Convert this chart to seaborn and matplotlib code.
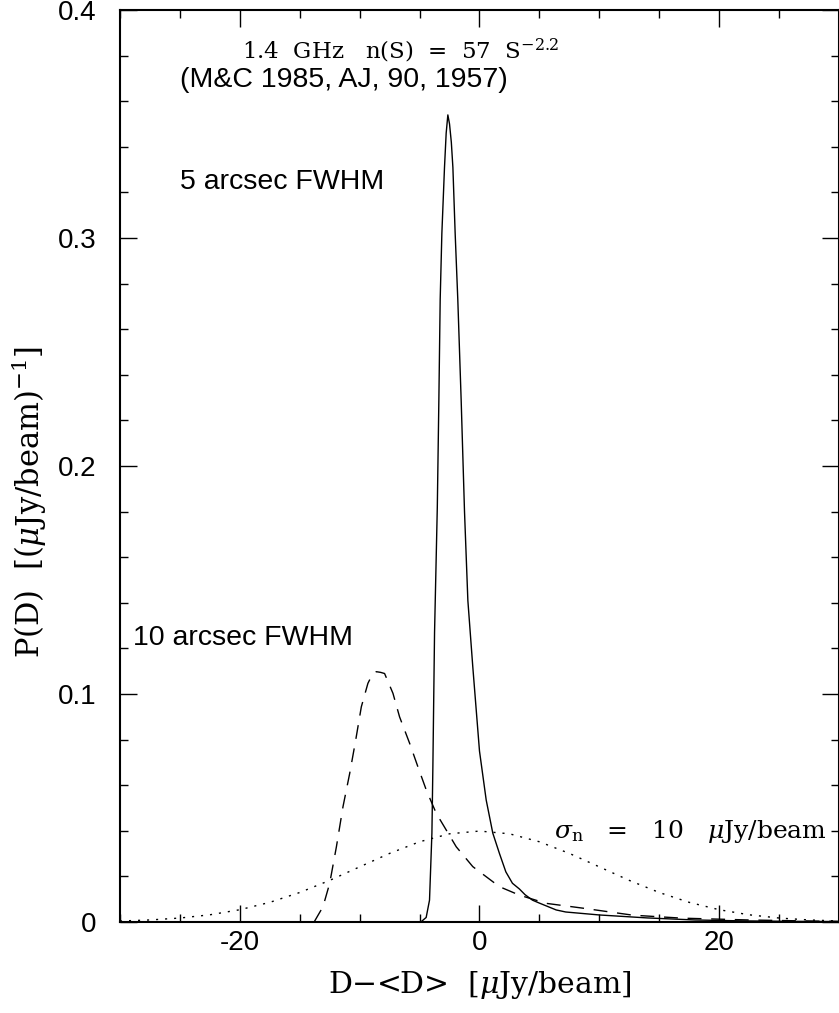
import seaborn as sns
import matplotlib.pyplot as plt
from matplotlib.ticker import MultipleLocator

# 5 arcsec FWHM P(D) (solid)
d5 = [-4.9, -4.45, -4.17, -3.97, -3.89, -3.75, -3.52, -3.39, -3.28, -3.14, -2.92, -2.78,
      -2.64, -2.5, -2.35, -2.22, -2.03, -1.81, -1.53, -1.25, -0.97, -0.56, 0.0, 0.56,
      1.11, 1.67, 2.2, 2.75, 3.33, 3.8, 4.42, 5.0, 6.4, 7.2, 10.0, 14.0, 18.0, 22.0,
      26.0, 30.0]
p5 = [0.0, 0.002, 0.0096, 0.039, 0.068, 0.127, 0.182, 0.229, 0.273, 0.302, 0.331, 0.346,
      0.354, 0.350, 0.342, 0.331, 0.302, 0.273, 0.229, 0.180, 0.141, 0.112, 0.075, 0.0535,
      0.039, 0.030, 0.022, 0.017, 0.0145, 0.012, 0.0096, 0.0083, 0.0053, 0.0044, 0.0031,
      0.0018, 0.0009, 0.0005, 0.0003, 0.0002]

# 10 arcsec FWHM P(D) (dashed)
d10 = [-13.8, -13.47, -13.06, -12.5, -11.94, -11.39, -10.83, -10.33, -9.86, -9.31, -8.95,
       -8.61, -8.25, -7.92, -7.22, -6.67, -5.83, -5.14, -4.44, -3.61, -2.78, -1.94, -0.56,
       1.11, 1.67, 3.33, 5.56, 8.6, 12.8, 16.9, 22.5, 28.0, 30.0]
p10 = [0.0, 0.003, 0.0067, 0.017, 0.033, 0.0506, 0.0652, 0.0798, 0.0944, 0.1047, 0.1085,
       0.1098, 0.1095, 0.109, 0.1003, 0.090, 0.0784, 0.0681, 0.0579, 0.0477, 0.0404, 0.033,
       0.0243, 0.0177, 0.0155, 0.0118, 0.0082, 0.0061, 0.003, 0.0017, 0.0009, 0.0004, 0.0003]

# noise, sigma_n = 10 (dotted)
dn = [-30, -27.5, -25, -22.5, -20, -17.5, -15, -12.5, -10, -7.5, -5, -2.5, 0,
      2.5, 5, 7.5, 10, 12.5, 15, 17.5, 20, 22.5, 25, 27.5, 30]
pn = [0.00044, 0.00091, 0.00175, 0.00317, 0.0054, 0.00863, 0.01295, 0.01826, 0.0242,
      0.0301, 0.0352, 0.0387, 0.0399, 0.0387, 0.0352, 0.0301, 0.0242, 0.01826, 0.01295,
      0.00863, 0.0054, 0.00317, 0.00175, 0.00091, 0.00044]

sns.set_style("ticks")
plt.rcParams['font.family'] = ['Liberation Sans', 'DejaVu Sans']
plt.rcParams['mathtext.fontset'] = 'dejavuserif'
for k in ['text.color', 'axes.labelcolor', 'xtick.color', 'ytick.color']:
    plt.rcParams[k] = 'black'
serif = ['DejaVu Serif']

fig = plt.figure(figsize=(8.39, 10.13), dpi=100)
ax = fig.add_axes([0.143, 0.0898, 0.857, 0.9003])

sns.lineplot(x=d5, y=p5, ax=ax, color='black', lw=1.0, sort=False)
sns.lineplot(x=d10, y=p10, ax=ax, color='black', lw=1.0, sort=False,
             linestyle=(0, (10, 7)))
sns.lineplot(x=dn, y=pn, ax=ax, color='black', lw=1.0, sort=False, linestyle=(0, (1.5, 5)))

ax.set_xlim(-30, 30)
ax.set_ylim(0, 0.4)
ax.xaxis.set_minor_locator(MultipleLocator(5))
ax.yaxis.set_minor_locator(MultipleLocator(0.02))
ax.set_xticks([-20, 0, 20])
ax.set_xticklabels(['-20', '0', '20'])
ax.set_yticks([0, 0.1, 0.2, 0.3, 0.4])
ax.set_yticklabels(['0', '0.1', '0.2', '0.3', '0.4'])
ax.tick_params(which='both', direction='in', top=True, right=True, labelsize=20,
               color='black', width=1.0)
ax.tick_params(which='major', length=12)
ax.tick_params(which='minor', length=6)
ax.tick_params(axis='y', which='major', pad=17)
ax.tick_params(axis='x', which='major', pad=6)
for s in ax.spines.values():
    s.set_linewidth(1.5)
    s.set_color('black')

ax.set_xlabel('D\u2212<D>  [$\\mu$Jy/beam]', fontsize=21.5, labelpad=9, family=serif)
ax.set_ylabel('P(D)  [($\\mu$Jy/beam)$^{-1}$]', fontsize=22, labelpad=6, family=serif)
ax.yaxis.label.set_y(0.46)

ax.text(-19.8, 0.3785, '1.4  GHz   n(S)  =  57  S$^{-2.2}$',
        fontsize=16.5, va='baseline', ha='left', family=serif)
ax.text(-25, 0.3695, '(M&C 1985, AJ, 90, 1957)', fontsize=20.5, va='center', ha='left')
ax.text(-25, 0.3245, '5 arcsec FWHM', fontsize=20.5, va='center', ha='left')
ax.text(-28.9, 0.1245, '10 arcsec FWHM', fontsize=20.5, va='center', ha='left')
ax.text(6.2, 0.0395, '$\\sigma_{\\rm n}$   =   10   $\\mu$Jy/beam',
        fontsize=18, va='center', ha='left', family=serif)

fig.savefig('out.png', dpi=100)
